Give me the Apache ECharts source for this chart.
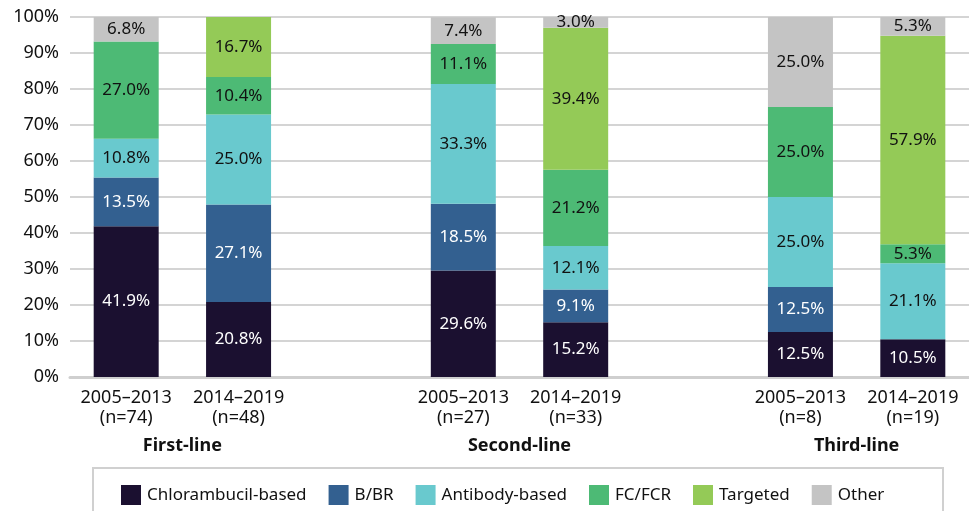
<!DOCTYPE html>
<html><head><meta charset="utf-8">
<script src="https://cdn.jsdelivr.net/npm/echarts@6/dist/echarts.min.js"></script>
<style>html,body{margin:0;padding:0;background:#fff}#c{width:969px;height:511px}</style>
</head><body><div id="c"></div>
<script>
// ---- data ----
const periods = ['2005–2013\n(n=74)', '2014–2019\n(n=48)', '2005–2013\n(n=27)', '2014–2019\n(n=33)', '2005–2013\n(n=8)', '2014–2019\n(n=19)'];
const groups = ['First-line', 'Second-line', 'Third-line'];
const seriesNames = ['Chlorambucil-based', 'B/BR', 'Antibody-based', 'FC/FCR', 'Targeted', 'Other'];
const chlorambucil = [41.9, 20.8, 29.6, 15.2, 12.5, 10.5];
const bbr = [13.5, 27.1, 18.5, 9.1, 12.5, 0];
const antibody = [10.8, 25.0, 33.3, 12.1, 25.0, 21.1];
const fcfcr = [27.0, 10.4, 11.1, 21.2, 25.0, 5.3];
const targeted = [0, 16.7, 0, 39.4, 0, 57.9];
const other = [6.8, 0, 7.4, 3.0, 25.0, 5.3];
const seriesValues = [chlorambucil, bbr, antibody, fcfcr, targeted, other];

// ---- style ----
const colors = ['#1b1030', '#336090', '#69c9ce', '#4dba75', '#94ca57', '#c4c4c4'];
const labelColors = ['#ffffff', '#ffffff', '#111111', '#111111', '#111111', '#111111'];
const FONT = 'Noto Sans';

// build slots: 2 bars per group, an empty slot between groups
const categories = [];
const slotOf = [];
const groupSlots = [];
groups.forEach((g, gi) => {
  const a = categories.length;
  categories.push(periods[gi * 2]); slotOf.push(a);
  categories.push(periods[gi * 2 + 1]); slotOf.push(a + 1);
  groupSlots.push([a, a + 1]);
  if (gi < groups.length - 1) categories.push(' '.repeat(gi + 1));
});
function toSlots(arr) {
  const out = categories.map(() => null);
  arr.forEach((v, i) => { out[slotOf[i]] = v > 0 ? v : null; });
  return out;
}

const chart = echarts.init(document.getElementById('c'), null, { renderer: 'canvas' });
const option = {
  animation: false,
  textStyle: { fontFamily: FONT },
  grid: { left: 70, right: -5, top: 17, bottom: 134, containLabel: false },
  legend: {
    data: seriesNames,
    left: 116, top: 480,
    itemWidth: 20, itemHeight: 20, itemGap: 22,
    icon: 'rect',
    textStyle: { fontFamily: FONT, fontSize: 17, color: '#111', padding: [0, 0, 0, 1] }
  },
  xAxis: {
    type: 'category',
    data: categories,
    axisTick: { show: false },
    axisLine: { show: true, lineStyle: { color: '#cfcfcf', width: 3 } },
    axisLabel: { fontFamily: FONT, fontSize: 18, color: '#111', lineHeight: 20, margin: 11, interval: 0 }
  },
  yAxis: {
    type: 'value', min: 0, max: 100, interval: 10,
    axisLine: { show: false }, axisTick: { show: false },
    axisLabel: { fontFamily: FONT, fontSize: 18, color: '#111', margin: 11, formatter: '{value}%' },
    splitLine: { lineStyle: { color: '#d4d4d4', width: 2 } }
  },
  series: seriesNames.map((name, i) => ({
    name, type: 'bar', stack: 'total', barWidth: 65,
    itemStyle: { color: colors[i] },
    label: {
      show: true, position: 'inside', fontFamily: FONT, fontSize: 17, color: labelColors[i],
      formatter: p => (p.value == null ? '' : p.value.toFixed(1) + '%')
    },
    data: toSlots(seriesValues[i])
  }))
};
chart.setOption(option);

// group labels under each pair of bars + legend frame
const gfx = groupSlots.map((s, gi) => {
  const x = (chart.convertToPixel({ xAxisIndex: 0 }, s[0]) + chart.convertToPixel({ xAxisIndex: 0 }, s[1])) / 2;
  return {
    type: 'text', x: x, y: 446,
    style: { text: groups[gi], font: 'bold 18px "' + FONT + '"', fill: '#111', textAlign: 'center', textVerticalAlign: 'middle' }
  };
});
gfx.push({
  type: 'rect', shape: { x: 93, y: 468, width: 850, height: 60 }, z: -1,
  style: { fill: null, stroke: '#d0d0d0', lineWidth: 2 }
});
chart.setOption({ graphic: gfx });
</script>
</body></html>
